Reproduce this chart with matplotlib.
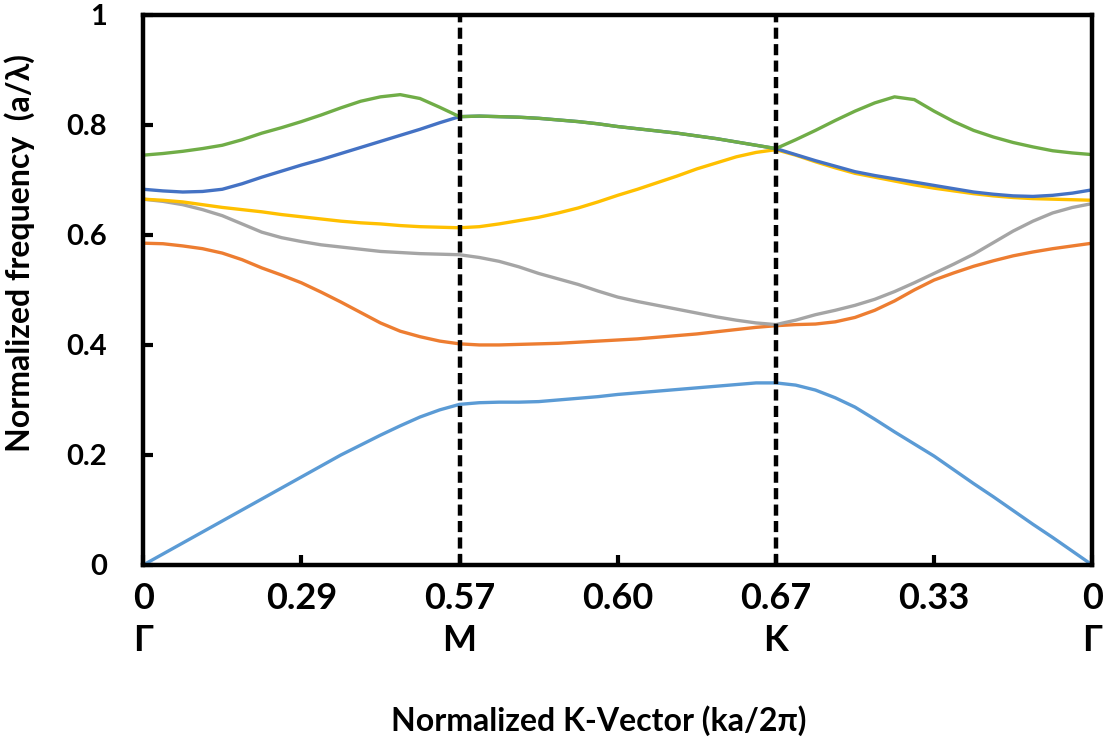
import matplotlib.pyplot as plt
import numpy as np

plt.rcParams['font.family'] = ['Lato', 'DejaVu Sans']
plt.rcParams['font.weight'] = 'bold'

# position along the Gamma-M-K-Gamma path (M at 2, K at 4), 1/8 steps
k = np.arange(49) / 8

band1 = [0.0, 0.02, 0.04, 0.06, 0.08, 0.1, 0.12, 0.14, 0.16, 0.18, 0.2, 0.218, 0.236, 0.253, 0.269, 0.282,
         0.292, 0.295, 0.296, 0.296, 0.297, 0.3, 0.303, 0.306, 0.31, 0.313, 0.316, 0.319, 0.322, 0.325, 0.328, 0.331,
         0.331, 0.327, 0.318, 0.304, 0.287, 0.265, 0.242, 0.22, 0.198, 0.173, 0.148, 0.124, 0.099, 0.074, 0.05, 0.025,
         0.0]
band2 = [0.585, 0.584, 0.58, 0.575, 0.567, 0.555, 0.54, 0.527, 0.513, 0.496, 0.478, 0.459, 0.44, 0.425, 0.415, 0.407,
         0.402, 0.4, 0.4, 0.401, 0.402, 0.403, 0.405, 0.407, 0.409, 0.411, 0.414, 0.417, 0.42, 0.424, 0.428, 0.432,
         0.435, 0.437, 0.438, 0.442, 0.45, 0.463, 0.48, 0.5, 0.518, 0.531, 0.543, 0.553, 0.562, 0.569, 0.575, 0.58,
         0.585]
band3 = [0.665, 0.661, 0.655, 0.646, 0.635, 0.62, 0.605, 0.595, 0.588, 0.582, 0.578, 0.574, 0.57, 0.568, 0.566, 0.565,
         0.564, 0.559, 0.552, 0.542, 0.53, 0.52, 0.51, 0.498, 0.487, 0.479, 0.472, 0.465, 0.458, 0.451, 0.445, 0.44,
         0.437, 0.445, 0.455, 0.463, 0.472, 0.483, 0.497, 0.513, 0.53, 0.547, 0.565, 0.586, 0.607, 0.625, 0.64, 0.65,
         0.657]
band4 = [0.665, 0.663, 0.66, 0.655, 0.65, 0.646, 0.642, 0.637, 0.633, 0.629, 0.625, 0.622, 0.62, 0.617, 0.615, 0.614,
         0.613, 0.615, 0.62, 0.626, 0.632, 0.64, 0.649, 0.66, 0.672, 0.683, 0.695, 0.707, 0.72, 0.731, 0.742, 0.75,
         0.755, 0.745, 0.733, 0.722, 0.712, 0.705, 0.698, 0.691, 0.685, 0.68, 0.675, 0.671, 0.668, 0.666, 0.665, 0.664,
         0.663]
band5 = [0.683, 0.68, 0.678, 0.679, 0.683, 0.693, 0.705, 0.716, 0.727, 0.737, 0.748, 0.759, 0.77, 0.781, 0.792, 0.804,
         0.815, 0.816, 0.815, 0.814, 0.812, 0.809, 0.806, 0.802, 0.797, 0.793, 0.789, 0.785, 0.78, 0.775, 0.769, 0.763,
         0.757, 0.746, 0.735, 0.725, 0.715, 0.708, 0.702, 0.696, 0.69, 0.684, 0.678, 0.674, 0.671, 0.67, 0.672, 0.676,
         0.682]
band6 = [0.745, 0.748, 0.752, 0.757, 0.763, 0.773, 0.785, 0.795, 0.806, 0.818, 0.831, 0.843, 0.851, 0.855, 0.848, 0.832,
         0.815, 0.816, 0.815, 0.814, 0.812, 0.809, 0.806, 0.802, 0.797, 0.793, 0.789, 0.785, 0.78, 0.775, 0.769, 0.763,
         0.757, 0.773, 0.79, 0.808, 0.825, 0.84, 0.851, 0.846, 0.825, 0.806, 0.79, 0.778, 0.768, 0.76, 0.753, 0.749,
         0.746]

bands = [band1, band2, band3, band4, band5, band6]
colors = ['#5B9BD5', '#ED7D31', '#A5A5A5', '#FFC000', '#4472C4', '#70AD47']

tick_pos = [0, 1, 2, 3, 4, 5, 6]
tick_labels = ['0\nΓ', '0.29\n ', '0.57\nM', '0.60\n ', '0.67\nK', '0.33\n ', '0\nΓ']
sym_points = [2, 4]

fig = plt.figure(figsize=(11.1, 7.44), dpi=100)
ax = fig.add_axes([0.129, 0.2406, 0.855, 0.7394])

for b, c in zip(bands, colors):
    ax.plot(k, b, color=c, linewidth=2.4, solid_capstyle='round')

for p in sym_points:
    ax.axvline(p, color='black', linewidth=3.2, linestyle=(0, (2.5, 1.2)))

ax.set_xlim(0, 6)
ax.set_ylim(0, 1)
ax.set_yticks([0, 0.2, 0.4, 0.6, 0.8, 1])
ax.set_yticklabels(['0', '0.2', '0.4', '0.6', '0.8', '1'])
ax.set_xticks(tick_pos)
ax.set_xticklabels(tick_labels, linespacing=1.35)

ax.tick_params(axis='both', direction='in', length=7, width=3)
ax.tick_params(axis='y', pad=26, labelsize=21)
ax.tick_params(axis='x', pad=12, labelsize=26)
for s in ax.spines.values():
    s.set_linewidth(3.2)

ax.set_xlabel('Normalized K-Vector (ka/2π)', fontsize=23, fontweight='bold')
ax.xaxis.set_label_coords(0.48, -0.255)
ax.set_ylabel('Normalized frequency  (a/λ)', fontsize=23, fontweight='bold')
ax.yaxis.set_label_coords(-0.114, 0.567)

fig.savefig('out.png', dpi=100)
